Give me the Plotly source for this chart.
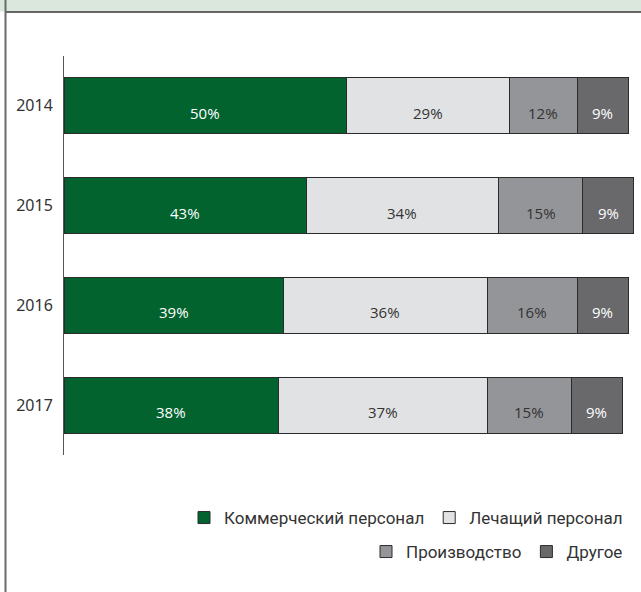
import plotly.graph_objects as go

years = ["2014", "2015", "2016", "2017"]
series_names = ["Коммерческий персонал", "Лечащий персонал", "Производство", "Другое"]
commercial = [50, 43, 39, 38]
medical = [29, 34, 36, 37]
production = [12, 15, 16, 15]
other = [9, 9, 9, 9]

series_values = [commercial, medical, production, other]
colors = ["#02632f", "#e1e2e4", "#939598", "#69696b"]
text_colors = ["#ffffff", "#333333", "#333333", "#ffffff"]
legend_ids = ["legend", "legend", "legend2", "legend2"]

W, H = 641, 592
ML, MR, MT, MB = 64, 5, 56, 137
PW = W - ML - MR
PH = H - MT - MB
px_per_pct = 5.64

fig = go.Figure()
for name, vals, col, lg in zip(series_names, series_values, colors, legend_ids):
    fig.add_trace(go.Bar(
        y=years, x=vals, name=name, orientation="h",
        marker=dict(color=col, line=dict(color="#2b2b2b", width=1)),
        width=0.56, legend=lg, hoverinfo="x+name",
    ))

annotations = []
for i, y in enumerate(years):
    start = 0
    for vals, tc in zip(series_values, text_colors):
        v = vals[i]
        annotations.append(dict(
            x=start + v / 2, y=i, xref="x", yref="y", text=f"{v}%",
            showarrow=False, yshift=-7,
            font=dict(family="Open Sans", size=15, color=tc),
        ))
        start += v

def px_x(p):
    return (p - ML) / PW

def px_y(p):
    return (H - MB - p) / PH

shapes = [
    dict(type="rect", xref="paper", yref="paper", x0=px_x(0), x1=px_x(W), y0=px_y(0), y1=px_y(11.5),
         fillcolor="#dbe7dc", line=dict(width=0), layer="below"),
    dict(type="line", xref="paper", yref="paper", x0=px_x(5), x1=px_x(W), y0=px_y(12), y1=px_y(12),
         line=dict(color="#333333", width=1.5)),
    dict(type="line", xref="paper", yref="paper", x0=px_x(5.5), x1=px_x(5.5), y0=px_y(0), y1=px_y(H),
         line=dict(color="#6b6b6b", width=2)),
]

fig.update_layout(
    width=W, height=H,
    margin=dict(l=ML, r=MR, t=MT, b=MB),
    barmode="stack",
    plot_bgcolor="white", paper_bgcolor="white",
    font=dict(family="Noto Sans", color="#333333"),
    xaxis=dict(range=[0, PW / px_per_pct], visible=False, showgrid=False, zeroline=False,
               automargin=False),
    yaxis=dict(type="category", categoryorder="array", categoryarray=years,
               range=[3.5, -0.5], autorange=False, showgrid=False, zeroline=False,
               showline=True, linecolor="#555555", linewidth=1, ticks="", automargin=False,
               ticklabelstandoff=7, tickfont=dict(family="Noto Sans", size=16, color="#333333")),
    legend=dict(orientation="h", x=px_x(628), xanchor="right", y=px_y(518), yanchor="middle",
                font=dict(family="Roboto", size=17, color="#333333"), itemwidth=30,
                traceorder="normal", bgcolor="rgba(0,0,0,0)"),
    legend2=dict(orientation="h", x=px_x(628), xanchor="right", y=px_y(552), yanchor="middle",
                 font=dict(family="Roboto", size=17, color="#333333"), itemwidth=30,
                 traceorder="normal", bgcolor="rgba(0,0,0,0)"),
    annotations=annotations,
    shapes=shapes,
    bargap=0.44,
)

fig.write_html("out.html", config={"displayModeBar": False},
               post_script="document.body.style.margin='0px';")
